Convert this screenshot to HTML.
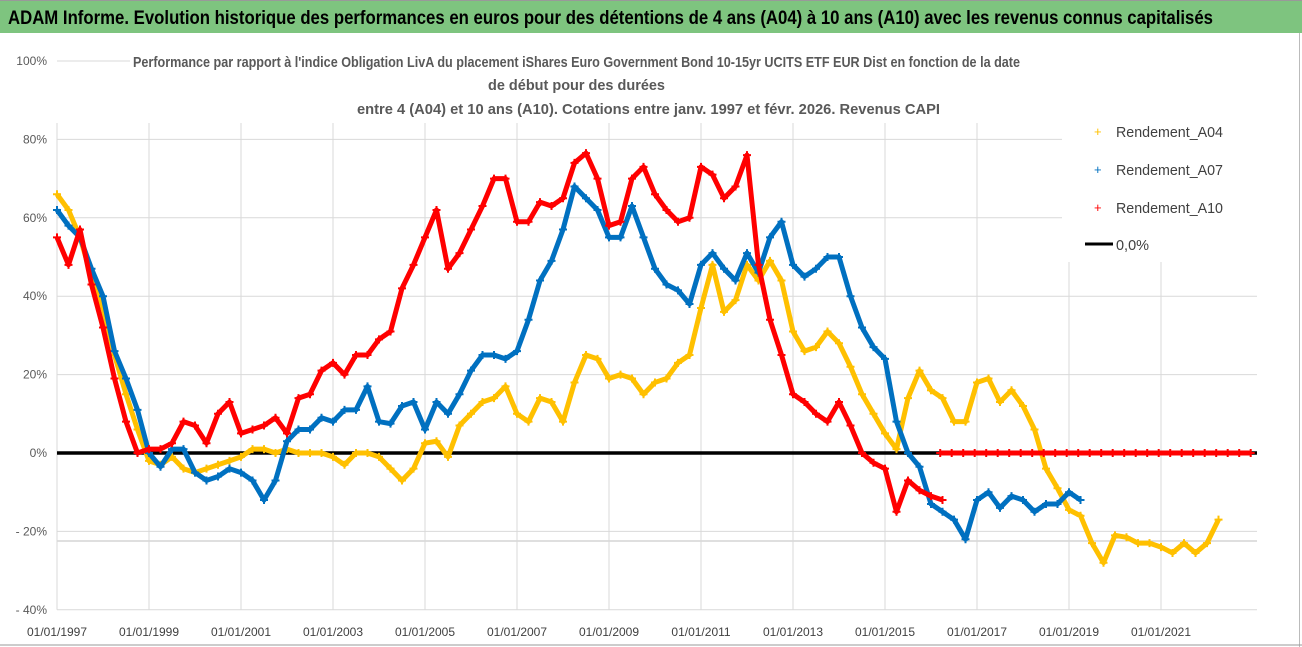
<!DOCTYPE html>
<html><head><meta charset="utf-8"><style>
html,body{margin:0;padding:0;background:#fff;}
svg{display:block;font-family:"Liberation Sans",sans-serif;}
</style></head><body>
<svg id="chart" width="1302" height="647" viewBox="0 0 1302 647">
<rect x="0" y="0" width="1302" height="647" fill="#fff"/>
<rect x="0" y="0" width="1302" height="33" fill="#7ec47f"/>
<line x1="0" y1="0.5" x2="1302" y2="0.5" stroke="#999"/>
<text x="8" y="24" font-size="19" font-weight="bold" fill="#000" textLength="1205" lengthAdjust="spacingAndGlyphs">ADAM Informe. Evolution historique des performances en euros pour des détentions de 4 ans (A04) à 10 ans (A10) avec les revenus connus capitalisés</text>
<line x1="1299.5" y1="33" x2="1299.5" y2="647" stroke="#bbb"/>
<line x1="0" y1="645" x2="1302" y2="645" stroke="#999"/>
<g id="grid"></g>
<g id="axes"></g>
<g id="series"></g>
<rect x="130" y="44" width="1127" height="78" fill="#fff"/>
<rect x="1062" y="110" width="195" height="152" fill="#fff"/>
<g fill="#595959" font-size="15" font-weight="bold">
<text x="133" y="67" textLength="887" lengthAdjust="spacingAndGlyphs">Performance par rapport à l'indice Obligation LivA  du placement iShares Euro Government Bond 10-15yr UCITS ETF EUR Dist en fonction de la date</text>
<text x="488" y="90" textLength="177" lengthAdjust="spacingAndGlyphs">de début pour des durées</text>
<text x="357" y="114" textLength="583" lengthAdjust="spacingAndGlyphs">entre 4 (A04) et 10 ans (A10). Cotations entre janv. 1997 et févr. 2026. Revenus CAPI</text>
</g>
<g font-size="15" fill="#404040">
<g><text x="1094" y="136" fill="#ffc000" font-size="13">+</text><text x="1116" y="137" textLength="107" lengthAdjust="spacingAndGlyphs">Rendement_A04</text></g>
<g><text x="1094" y="174" fill="#0070c0" font-size="13">+</text><text x="1116" y="175" textLength="107" lengthAdjust="spacingAndGlyphs">Rendement_A07</text></g>
<g><text x="1094" y="212" fill="#ff0000" font-size="13">+</text><text x="1116" y="213" textLength="107" lengthAdjust="spacingAndGlyphs">Rendement_A10</text></g>
<g><line x1="1085" y1="244" x2="1113" y2="244" stroke="#000" stroke-width="3"/><text x="1116" y="250" textLength="33" lengthAdjust="spacingAndGlyphs">0,0%</text></g>
</g>
</svg>
<script>
const yTicks = [100, 80, 60, 40, 20, 0, -20, -40];
const yTickLabels = ["100%", "80%", "60%", "40%", "20%", "0%", "- 20%", "- 40%"];
const xTickYears = [1997, 1999, 2001, 2003, 2005, 2007, 2009, 2011, 2013, 2015, 2017, 2019, 2021];
const xTickLabels = ["01/01/1997","01/01/1999","01/01/2001","01/01/2003","01/01/2005","01/01/2007","01/01/2009","01/01/2011","01/01/2013","01/01/2015","01/01/2017","01/01/2019","01/01/2021"];
const startA04 = 1997, startA07 = 1997, startA10 = 1997, startA10Zero = 2016.2;
const a04 = [66,62,55,45,37,25,15,6,-2,-3,-1,-4,-5,-4,-3,-2,-1,1,1,0,1,0,0,0,-1,-3,0,0,-1,-4,-7,-4,2.5,3,-1,7,10,13,14,17,10,8,14,13,8,18,25,24,19,20,19,15,18,19,23,25,37,48,36,39,48,44,49,44,31,26,27,31,28,22,15,10,5,1,14,21,16,14,8,8,18,19,13,16,12,6,-4,-9,-14.5,-16,-23,-28,-21,-21.5,-23,-23,-24,-25.5,-23,-25.5,-23,-17];
const a07 = [62,58,55,47,40,26,19,11,0,-3.5,1,1,-5,-7,-6,-4,-5,-7,-12,-7,3,6,6,9,8,11,11,17,8,7.5,12,13,6,13,10,15,21,25,25,24,26,34,44,49,57,68,65,62,55,55,63,55,47,43,41.5,38,48,51,47,44,51,46,55,59,48,45,47,50,50,40,32,27,24,8,0,-3.5,-13,-15,-17,-22,-12,-10,-14,-11,-12,-15,-13,-13,-10,-12];
const a10 = [55,48,57,43,32,19,8,0,1,1,2.5,8,7,2.5,10,13,5,6,7,9,5,14,15,21,23,20,25,25,29,31,42,48,55,62,47,51,57,63,70,70,59,59,64,63,65,74,76.5,70,58,59,70,73,66,62,59,60,73,71,65,68,76,48,34,25,15,13,10,8,13,7,0,-2.5,-4,-15,-7,-9.5,-11,-12];
const a10Zero = [0,0,0,0,0,0,0,0,0,0,0,0,0,0,0,0,0,0,0,0,0,0,0,0,0,0,0,0];
const step = 0.25;
const X0 = 57, X1 = 1257, T0 = 1997, PXY = 46;
const Y0 = 453, PXV = 3.92;
function xs(t){ return X0 + (t - T0) * PXY; }
function ys(v){ return Y0 - v * PXV; }
const NS = "http://www.w3.org/2000/svg";
function mk(tag, attrs, parent){ const e = document.createElementNS(NS, tag); for (const k in attrs) e.setAttribute(k, attrs[k]); parent.appendChild(e); return e; }
const grid = document.getElementById('grid'), axes = document.getElementById('axes'), ser = document.getElementById('series');
yTicks.forEach((v, i) => {
  const l = mk('line', {x1: X0, x2: X1, y1: ys(v), y2: ys(v), stroke: '#d9d9d9', 'stroke-width': 1}, grid);
  
  
  const t = mk('text', {x: 47, y: ys(v) + 4, 'text-anchor': 'end', 'font-size': 12, fill: '#595959'}, axes);
  t.textContent = yTickLabels[i];
  
  
});
const extra = mk('line', {x1: X0, x2: X1, y1: 541, y2: 541, stroke: '#bfbfbf', 'stroke-width': 1}, grid);


xTickYears.forEach((yr, i) => {
  const l = mk('line', {x1: xs(yr), x2: xs(yr), y1: 123, y2: ys(-40), stroke: '#d9d9d9', 'stroke-width': 1}, grid);
  
  
  const t = mk('text', {x: xs(yr), y: 636, 'text-anchor': 'middle', 'font-size': 12, fill: '#404040'}, axes);
  t.textContent = xTickLabels[i];
  
  
});
const zl = mk('line', {x1: X0, x2: X1, y1: ys(0), y2: ys(0), stroke: '#000', 'stroke-width': 3.5}, ser);


function drawSeries(vals, start, color, name){
  const g = mk('g', {}, ser);
  
  
  const pts = vals.map((v, i) => [xs(start + i * step), ys(v)]);
  const pl = mk('polyline', {points: pts.map(p => p.join(',')).join(' '), fill: 'none', stroke: color, 'stroke-width': 5, 'stroke-linejoin': 'round'}, g);
  
  
  let d = '';
  pts.forEach(p => { d += `M${p[0]-4},${p[1]}h8M${p[0]},${p[1]-4}v8`; });
  const m = mk('path', {d: d, stroke: color, 'stroke-width': 2, fill: 'none'}, g);
  
  
}
drawSeries(a04, startA04, '#ffc000', 'series-a04');
drawSeries(a07, startA07, '#0070c0', 'series-a07');
drawSeries(a10, startA10, '#ff0000', 'series-a10');
drawSeries(a10Zero, startA10Zero, '#ff0000', 'series-a10-zero');
</script>
</body></html>
